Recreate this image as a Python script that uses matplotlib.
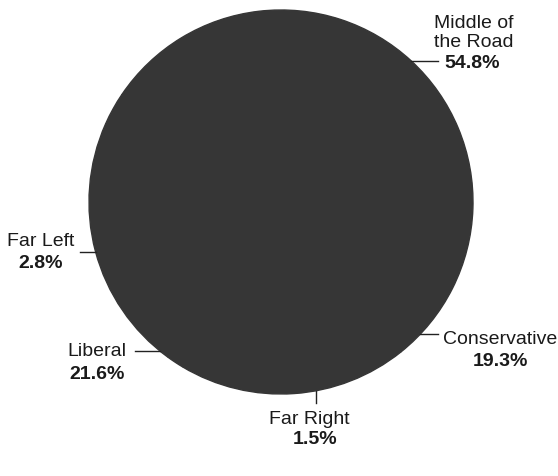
import numpy as np
import matplotlib
matplotlib.use("Agg")
import matplotlib.pyplot as plt

plt.rcParams['font.family'] = ['Liberation Sans', 'DejaVu Sans']

# data
labels = ['Middle of\nthe Road', 'Conservative', 'Far Right', 'Liberal', 'Far Left']
shares = [54.8, 19.3, 1.5, 21.6, 2.8]

# layout (pixel coords, y up; figure is 558 x 477)
cx, cy, r = 281, 274, 192
label_ang = [47.3, -43.5, -79.5, 231, 195]            # where the leader meets the rim
leader_end = [(438, None), (438, None), (None, 73), (135, None), (80, None)]
name_pos = [(474, 444), (500, 137), (309, 57), (97, 125), (41, 235)]
pct_pos = [(472, 413), (500, 115), (315, 37), (97, 102), (41, 214)]
pie_col = '#363636'

fig = plt.figure(figsize=(5.58, 4.77), dpi=100)
ax = fig.add_axes([0, 0, 1, 1])

ax.pie(shares, center=(cx, cy), radius=r, startangle=47.3 + shares[0] * 1.8,
       counterclock=False, colors=[pie_col] * len(shares),
       wedgeprops=dict(linewidth=1.0, edgecolor=pie_col), frame=True)
ax.set_xlim(0, 558)
ax.set_ylim(0, 477)
ax.set_aspect('equal')
ax.axis('off')

for i in range(len(labels)):
    a = np.radians(label_ang[i])
    x0 = cx + r * np.cos(a)
    y0 = cy + r * np.sin(a)
    ex, ey = leader_end[i]
    x1 = x0 if ex is None else ex
    y1 = y0 if ey is None else ey
    ax.plot([x0, x1], [y0, y1], color='#222222', lw=1.0)

    nx, ny = name_pos[i]
    ax.text(nx, ny, labels[i], ha='center', va='center', fontsize=14,
            color='#1a1a1a', linespacing=1.15)
    px, py = pct_pos[i]
    ax.text(px, py, f'{shares[i]}%', ha='center', va='center', fontsize=14,
            fontweight='bold', color='#1a1a1a')

fig.savefig('out.png', dpi=100)
